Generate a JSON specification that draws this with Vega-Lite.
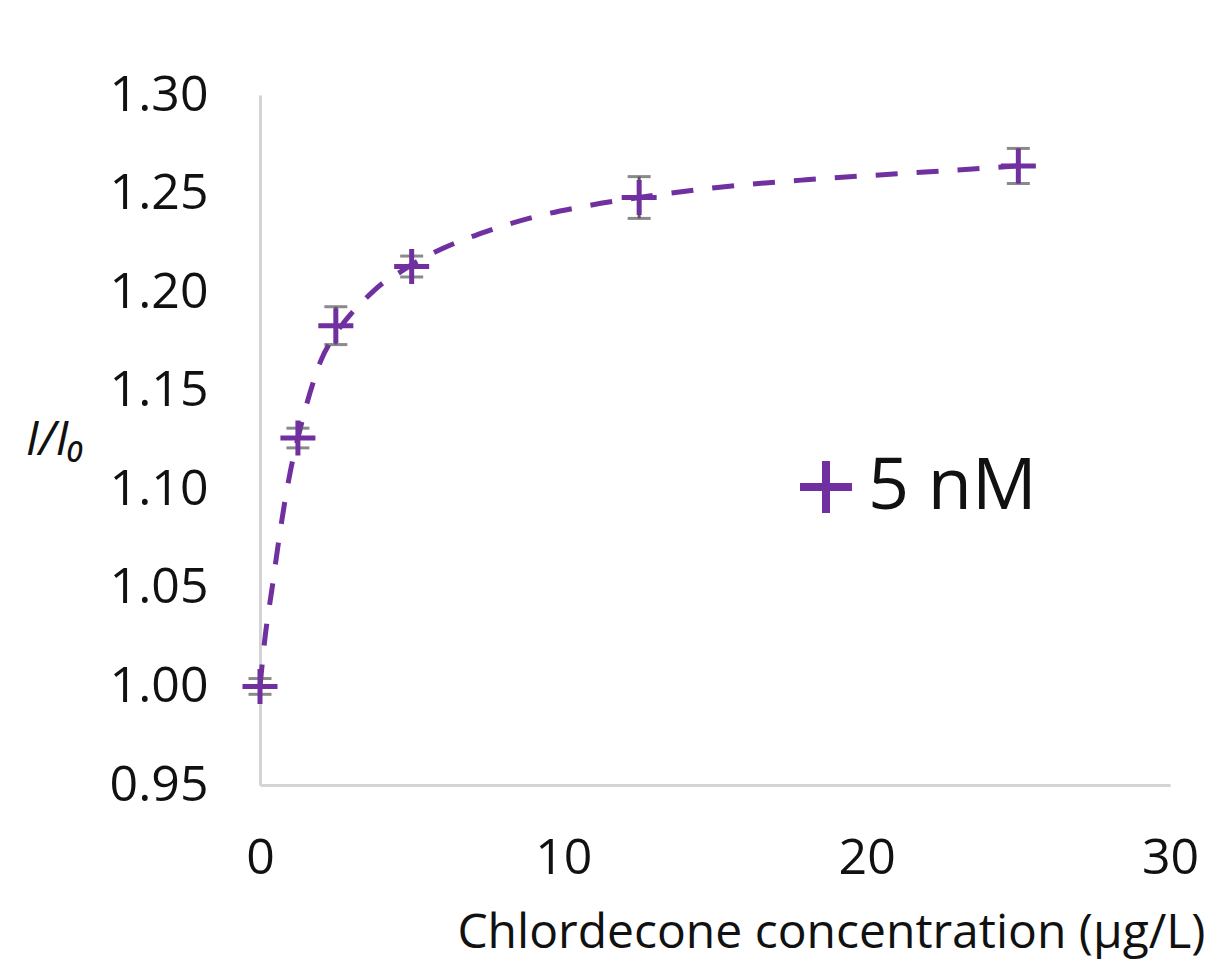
{
  "$schema": "https://vega.github.io/schema/vega-lite/v6.json",
  "autosize": "none",
  "width": 910,
  "height": 690,
  "padding": {"left": 260, "top": 95, "right": 39, "bottom": 178},
  "background": "white",
  "config": {"view": {"stroke": null}, "font": "Open Sans"},
  "datasets": {
    "curve": [
      {"x": 0, "y": 1.000}, {"x": 0.16, "y": 1.024}, {"x": 0.4, "y": 1.050}, {"x": 0.6, "y": 1.072},
      {"x": 0.8, "y": 1.092}, {"x": 1.0, "y": 1.109}, {"x": 1.25, "y": 1.126}, {"x": 1.5, "y": 1.141},
      {"x": 1.75, "y": 1.154}, {"x": 2.0, "y": 1.165}, {"x": 2.5, "y": 1.179}, {"x": 3.0, "y": 1.189},
      {"x": 3.5, "y": 1.197}, {"x": 4.0, "y": 1.204}, {"x": 4.5, "y": 1.209}, {"x": 5.0, "y": 1.214},
      {"x": 6.0, "y": 1.222}, {"x": 7.5, "y": 1.231}, {"x": 9.0, "y": 1.238}, {"x": 10.5, "y": 1.243},
      {"x": 12.5, "y": 1.248}, {"x": 15, "y": 1.253}, {"x": 18, "y": 1.257}, {"x": 21, "y": 1.260},
      {"x": 23, "y": 1.262}, {"x": 25, "y": 1.264}
    ],
    "points": [
      {"x": 0, "y": 1.000, "err": 0.004, "series": "5 nM"},
      {"x": 1.25, "y": 1.126, "err": 0.005, "series": "5 nM"},
      {"x": 2.5, "y": 1.183, "err": 0.0096, "series": "5 nM"},
      {"x": 5, "y": 1.213, "err": 0.0053, "series": "5 nM"},
      {"x": 12.5, "y": 1.248, "err": 0.0106, "series": "5 nM"},
      {"x": 25, "y": 1.264, "err": 0.0089, "series": "5 nM"}
    ]
  },
  "encoding": {
    "x": {
      "field": "x", "type": "quantitative",
      "scale": {"domain": [0, 30], "nice": false},
      "axis": {
        "values": [0, 10, 20, 30], "grid": false, "ticks": false, "labelFlush": false, "labelOverlap": false,
        "domainColor": "#d4d4d4", "domainWidth": 3,
        "labelFontSize": 50, "labelColor": "#111111", "labelPadding": 48,
        "labelFont": "Open Sans",
        "title": "Chlordecone concentration (µg/L)",
        "titleFontSize": 48, "titleFontWeight": "normal", "titleColor": "#111111",
        "titleFont": "Open Sans",
        "titleAnchor": "end", "titleAlign": "right", "titleX": 945, "titleY": 162,
        "titleBaseline": "alphabetic"
      }
    },
    "y": {
      "field": "y", "type": "quantitative",
      "scale": {"domain": [0.95, 1.30], "nice": false, "zero": false},
      "axis": {
        "values": [0.95, 1.0, 1.05, 1.1, 1.15, 1.2, 1.25, 1.3], "format": ".2f",
        "grid": false, "ticks": false, "labelFlush": false, "labelOverlap": false,
        "domainColor": "#d4d4d4", "domainWidth": 3,
        "labelFontSize": 50, "labelColor": "#111111", "labelPadding": 52,
        "labelFont": "Open Sans",
        "title": "I/I₀", "titleAngle": 0, "titleFontSize": 48, "titleFontStyle": "italic",
        "titleFontWeight": "normal", "titleColor": "#111111", "titleFont": "Open Sans",
        "titleX": -205, "titleY": 345, "titleAlign": "center", "titleBaseline": "middle"
      }
    }
  },
  "layer": [
    {
      "data": {"name": "curve"},
      "mark": {"type": "line", "color": "#7030A0", "strokeWidth": 5, "strokeDash": [22, 19], "interpolate": "monotone"}
    },
    {
      "data": {"name": "points"},
      "mark": {"type": "errorbar", "ticks": {"size": 23, "thickness": 3, "color": "#595959"}, "rule": {"strokeWidth": 3, "color": "#595959"}},
      "encoding": {"yError": {"field": "err"}}
    },
    {
      "data": {"name": "points"},
      "mark": {"type": "point", "shape": "M-1,0L1,0M0,-1L0,1", "filled": false, "size": 1225, "strokeWidth": 5, "opacity": 1},
      "encoding": {
        "color": {
          "field": "series", "type": "nominal",
          "scale": {"domain": ["5 nM"], "range": ["#7030A0"]},
          "legend": {
            "title": null, "orient": "none", "legendX": 530, "legendY": 356,
            "symbolType": "M-1,0L1,0M0,-1L0,1", "symbolSize": 2700, "symbolStrokeWidth": 8,
            "symbolFillColor": "transparent", "labelLimit": 600,
            "labelFontSize": 72, "labelFont": "Open Sans", "labelColor": "#111111", "labelOffset": 6
          }
        }
      }
    }
  ]
}
